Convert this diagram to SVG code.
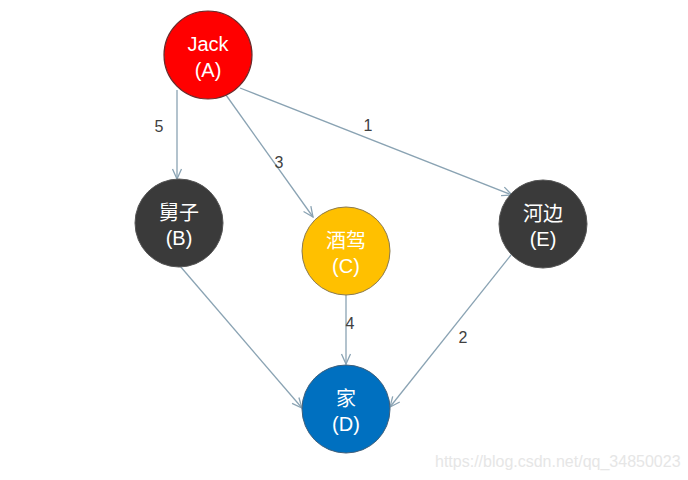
<svg xmlns="http://www.w3.org/2000/svg" width="688" height="480" viewBox="0 0 688 480">
<defs>
<marker id="arr" viewBox="0 0 12 12" refX="11" refY="6" markerWidth="12" markerHeight="12" markerUnits="userSpaceOnUse" orient="auto">
<path d="M1,1.5 L11,6 L1,10.5" fill="none" stroke="#8aa3b3" stroke-width="1.3"/>
</marker>
</defs>
<style>
.edge{stroke:#8aa3b3;stroke-width:1.3;fill:none;marker-end:url(#arr)}
.lbl{font-family:"Liberation Sans","Noto Sans CJK SC",sans-serif;font-size:16px;fill:#404040;text-anchor:middle}
.nt{font-family:"Liberation Sans","Noto Sans CJK SC",sans-serif;font-size:20px;fill:#ffffff;text-anchor:middle}
.wm{font-family:"Liberation Sans",sans-serif;font-size:16px;fill:#e6e6e6}
</style>
<rect width="688" height="480" fill="#ffffff"/>
<g id="connectors">
<line class="edge" x1="177" y1="90" x2="177" y2="179"/>
<line class="edge" x1="226" y1="95" x2="313" y2="217"/>
<line class="edge" x1="240" y1="88" x2="512" y2="195"/>
<line class="edge" x1="346" y1="295" x2="346" y2="364"/>
<line class="edge" x1="180" y1="266" x2="302" y2="408"/>
<line class="edge" x1="511" y1="255" x2="390" y2="407"/>
<text class="lbl" x="159" y="132">5</text>
<text class="lbl" x="279" y="168">3</text>
<text class="lbl" x="368" y="131">1</text>
<text class="lbl" x="350" y="329">4</text>
<text class="lbl" x="463" y="343">2</text>
</g>
<g id="nodeA">
<circle cx="208" cy="55" r="44" fill="#ff0000" stroke="#6b2a2a" stroke-width="1.2"/>
<text class="nt" x="208" y="51">Jack</text>
<text class="nt" x="208" y="77">(A)</text>
</g>
<g id="nodeB">
<circle cx="179" cy="223" r="44" fill="#3a3a3a" stroke="#555555" stroke-width="1"/>
<text class="nt" x="179" y="220">舅子</text>
<text class="nt" x="179" y="245">(B)</text>
</g>
<g id="nodeC">
<circle cx="346" cy="251" r="44" fill="#ffc000" stroke="#8a7a50" stroke-width="1"/>
<text class="nt" x="346" y="248">酒驾</text>
<text class="nt" x="346" y="273">(C)</text>
</g>
<g id="nodeE">
<circle cx="543" cy="224" r="44" fill="#3a3a3a" stroke="#555555" stroke-width="1"/>
<text class="nt" x="543" y="221">河边</text>
<text class="nt" x="543" y="246">(E)</text>
</g>
<g id="nodeD">
<circle cx="346" cy="409" r="44" fill="#0070c0" stroke="#3f5f7a" stroke-width="1"/>
<text class="nt" x="346" y="406">家</text>
<text class="nt" x="346" y="431">(D)</text>
</g>
<text class="wm" x="435" y="467">https://blog.csdn.net/qq_34850023</text>
</svg>
